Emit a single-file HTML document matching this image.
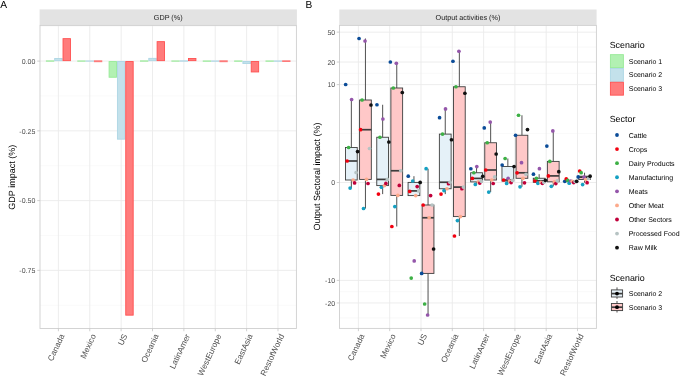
<!DOCTYPE html>
<html><head><meta charset="utf-8"><style>
html,body{margin:0;padding:0;background:#fff;}
svg{display:block;font-family:"Liberation Sans", sans-serif;will-change:transform;text-rendering:geometricPrecision;}
</style></head><body>
<svg width="685" height="376" viewBox="0 0 685 376">
<rect width="685" height="376" fill="#fff"/>
<rect x="39.6" y="9.4" width="257.30" height="16.00" fill="#E3E3E3"/>
<text x="168.2" y="20.3" font-size="7.25" text-anchor="middle" fill="#1A1A1A">GDP (%)</text>
<line x1="40.0" x2="296.4" y1="26.23" y2="26.23" stroke="#F5F5F5" stroke-width="0.6"/>
<line x1="40.0" x2="296.4" y1="95.97" y2="95.97" stroke="#F5F5F5" stroke-width="0.6"/>
<line x1="40.0" x2="296.4" y1="165.72" y2="165.72" stroke="#F5F5F5" stroke-width="0.6"/>
<line x1="40.0" x2="296.4" y1="235.47" y2="235.47" stroke="#F5F5F5" stroke-width="0.6"/>
<line x1="40.0" x2="296.4" y1="305.23" y2="305.23" stroke="#F5F5F5" stroke-width="0.6"/>
<line x1="40.0" x2="296.4" y1="61.10" y2="61.10" stroke="#EBEBEB" stroke-width="0.9"/>
<line x1="40.0" x2="296.4" y1="130.85" y2="130.85" stroke="#EBEBEB" stroke-width="0.9"/>
<line x1="40.0" x2="296.4" y1="200.60" y2="200.60" stroke="#EBEBEB" stroke-width="0.9"/>
<line x1="40.0" x2="296.4" y1="270.35" y2="270.35" stroke="#EBEBEB" stroke-width="0.9"/>
<line x1="58.40" x2="58.40" y1="25.4" y2="328.5" stroke="#EBEBEB" stroke-width="0.9"/>
<line x1="89.77" x2="89.77" y1="25.4" y2="328.5" stroke="#EBEBEB" stroke-width="0.9"/>
<line x1="121.14" x2="121.14" y1="25.4" y2="328.5" stroke="#EBEBEB" stroke-width="0.9"/>
<line x1="152.51" x2="152.51" y1="25.4" y2="328.5" stroke="#EBEBEB" stroke-width="0.9"/>
<line x1="183.88" x2="183.88" y1="25.4" y2="328.5" stroke="#EBEBEB" stroke-width="0.9"/>
<line x1="215.25" x2="215.25" y1="25.4" y2="328.5" stroke="#EBEBEB" stroke-width="0.9"/>
<line x1="246.62" x2="246.62" y1="25.4" y2="328.5" stroke="#EBEBEB" stroke-width="0.9"/>
<line x1="277.99" x2="277.99" y1="25.4" y2="328.5" stroke="#EBEBEB" stroke-width="0.9"/>
<rect x="45.91" y="60.20" width="8.33" height="1.70" fill="#98EA98" opacity="0.75"/>
<rect x="54.69" y="58.45" width="7.43" height="2.20" fill="#C3E1EB" stroke="#ADD6E4" stroke-width="0.9"/>
<rect x="63.02" y="38.65" width="7.43" height="22.00" fill="#FF7C7C" stroke="#FF5050" stroke-width="0.9"/>
<rect x="77.27" y="60.30" width="8.33" height="1.60" fill="#98EA98" opacity="0.75"/>
<rect x="85.60" y="60.30" width="8.33" height="1.60" fill="#ADD6E4" opacity="0.75"/>
<rect x="93.93" y="60.30" width="8.33" height="1.90" fill="#FF5050" opacity="0.75"/>
<rect x="109.09" y="61.55" width="7.43" height="15.70" fill="#B2F1B2" stroke="#98EA98" stroke-width="0.9"/>
<rect x="117.42" y="61.55" width="7.43" height="77.60" fill="#C3E1EB" stroke="#ADD6E4" stroke-width="0.9"/>
<rect x="125.75" y="61.55" width="7.43" height="253.60" fill="#FF7C7C" stroke="#FF5050" stroke-width="0.9"/>
<rect x="140.01" y="60.20" width="8.33" height="1.70" fill="#98EA98" opacity="0.75"/>
<rect x="148.79" y="58.35" width="7.43" height="2.30" fill="#C3E1EB" stroke="#ADD6E4" stroke-width="0.9"/>
<rect x="157.12" y="41.65" width="7.43" height="19.00" fill="#FF7C7C" stroke="#FF5050" stroke-width="0.9"/>
<rect x="171.38" y="60.30" width="8.33" height="1.60" fill="#98EA98" opacity="0.75"/>
<rect x="179.72" y="60.10" width="8.33" height="1.80" fill="#ADD6E4" opacity="0.75"/>
<rect x="188.49" y="58.45" width="7.43" height="2.20" fill="#FF7C7C" stroke="#FF5050" stroke-width="0.9"/>
<rect x="202.75" y="60.30" width="8.33" height="1.70" fill="#98EA98" opacity="0.75"/>
<rect x="211.09" y="60.30" width="8.33" height="1.70" fill="#ADD6E4" opacity="0.75"/>
<rect x="219.41" y="60.30" width="8.33" height="1.90" fill="#FF5050" opacity="0.75"/>
<rect x="234.12" y="60.30" width="8.33" height="1.70" fill="#98EA98" opacity="0.75"/>
<rect x="242.91" y="61.55" width="7.43" height="2.00" fill="#C3E1EB" stroke="#ADD6E4" stroke-width="0.9"/>
<rect x="251.23" y="61.55" width="7.43" height="10.40" fill="#FF7C7C" stroke="#FF5050" stroke-width="0.9"/>
<rect x="265.50" y="60.30" width="8.33" height="1.70" fill="#98EA98" opacity="0.75"/>
<rect x="273.82" y="60.30" width="8.33" height="1.70" fill="#ADD6E4" opacity="0.75"/>
<rect x="282.16" y="60.30" width="8.33" height="1.70" fill="#FF5050" opacity="0.75"/>
<rect x="40.0" y="25.4" width="256.4" height="303.1" fill="none" stroke="#CFCFCF" stroke-width="0.9"/>
<line x1="37.25" x2="40.0" y1="61.10" y2="61.10" stroke="#C4C4C4" stroke-width="0.8"/>
<text x="35.3" y="63.90" font-size="7" text-anchor="end" fill="#4D4D4D">0.00</text>
<line x1="37.25" x2="40.0" y1="130.85" y2="130.85" stroke="#C4C4C4" stroke-width="0.8"/>
<text x="35.3" y="133.65" font-size="7" text-anchor="end" fill="#4D4D4D">-0.25</text>
<line x1="37.25" x2="40.0" y1="200.60" y2="200.60" stroke="#C4C4C4" stroke-width="0.8"/>
<text x="35.3" y="203.40" font-size="7" text-anchor="end" fill="#4D4D4D">-0.50</text>
<line x1="37.25" x2="40.0" y1="270.35" y2="270.35" stroke="#C4C4C4" stroke-width="0.8"/>
<text x="35.3" y="273.15" font-size="7" text-anchor="end" fill="#4D4D4D">-0.75</text>
<line x1="58.40" x2="58.40" y1="328.5" y2="331.25" stroke="#C4C4C4" stroke-width="0.8"/>
<text transform="translate(59.20,333.10) rotate(-65)" font-size="8.2" text-anchor="end" dy="6.1" fill="#4D4D4D">Canada</text>
<line x1="89.77" x2="89.77" y1="328.5" y2="331.25" stroke="#C4C4C4" stroke-width="0.8"/>
<text transform="translate(90.57,333.10) rotate(-65)" font-size="8.2" text-anchor="end" dy="6.1" fill="#4D4D4D">Mexico</text>
<line x1="121.14" x2="121.14" y1="328.5" y2="331.25" stroke="#C4C4C4" stroke-width="0.8"/>
<text transform="translate(121.94,333.10) rotate(-65)" font-size="8.2" text-anchor="end" dy="6.1" fill="#4D4D4D">US</text>
<line x1="152.51" x2="152.51" y1="328.5" y2="331.25" stroke="#C4C4C4" stroke-width="0.8"/>
<text transform="translate(153.31,333.10) rotate(-65)" font-size="8.2" text-anchor="end" dy="6.1" fill="#4D4D4D">Oceania</text>
<line x1="183.88" x2="183.88" y1="328.5" y2="331.25" stroke="#C4C4C4" stroke-width="0.8"/>
<text transform="translate(184.68,333.10) rotate(-65)" font-size="8.2" text-anchor="end" dy="6.1" fill="#4D4D4D">LatinAmer</text>
<line x1="215.25" x2="215.25" y1="328.5" y2="331.25" stroke="#C4C4C4" stroke-width="0.8"/>
<text transform="translate(216.05,333.10) rotate(-65)" font-size="8.2" text-anchor="end" dy="6.1" fill="#4D4D4D">WestEurope</text>
<line x1="246.62" x2="246.62" y1="328.5" y2="331.25" stroke="#C4C4C4" stroke-width="0.8"/>
<text transform="translate(247.42,333.10) rotate(-65)" font-size="8.2" text-anchor="end" dy="6.1" fill="#4D4D4D">EastAsia</text>
<line x1="277.99" x2="277.99" y1="328.5" y2="331.25" stroke="#C4C4C4" stroke-width="0.8"/>
<text transform="translate(278.79,333.10) rotate(-65)" font-size="8.2" text-anchor="end" dy="6.1" fill="#4D4D4D">RestofWorld</text>
<text transform="translate(14.65,177.25) rotate(-90)" font-size="9" text-anchor="middle" fill="#000">GDP impact (%)</text>
<text x="0.2" y="8.3" font-size="10.2" fill="#000">A</text>
<rect x="339.3" y="9.5" width="257.30" height="15.90" fill="#E3E3E3"/>
<text x="467.95" y="20.3" font-size="7.25" text-anchor="middle" fill="#1A1A1A">Output activities (%)</text>
<line x1="339.5" x2="596.4" y1="317.91" y2="317.91" stroke="#F5F5F5" stroke-width="0.6"/>
<line x1="339.5" x2="596.4" y1="291.68" y2="291.68" stroke="#F5F5F5" stroke-width="0.6"/>
<line x1="339.5" x2="596.4" y1="231.45" y2="231.45" stroke="#F5F5F5" stroke-width="0.6"/>
<line x1="339.5" x2="596.4" y1="133.55" y2="133.55" stroke="#F5F5F5" stroke-width="0.6"/>
<line x1="339.5" x2="596.4" y1="73.32" y2="73.32" stroke="#F5F5F5" stroke-width="0.6"/>
<line x1="339.5" x2="596.4" y1="47.09" y2="47.09" stroke="#F5F5F5" stroke-width="0.6"/>
<line x1="339.5" x2="596.4" y1="302.96" y2="302.96" stroke="#EBEBEB" stroke-width="0.9"/>
<line x1="339.5" x2="596.4" y1="280.39" y2="280.39" stroke="#EBEBEB" stroke-width="0.9"/>
<line x1="339.5" x2="596.4" y1="182.50" y2="182.50" stroke="#EBEBEB" stroke-width="0.9"/>
<line x1="339.5" x2="596.4" y1="84.61" y2="84.61" stroke="#EBEBEB" stroke-width="0.9"/>
<line x1="339.5" x2="596.4" y1="62.04" y2="62.04" stroke="#EBEBEB" stroke-width="0.9"/>
<line x1="339.5" x2="596.4" y1="32.14" y2="32.14" stroke="#EBEBEB" stroke-width="0.9"/>
<line x1="358.40" x2="358.40" y1="25.4" y2="328.4" stroke="#EBEBEB" stroke-width="0.9"/>
<line x1="389.70" x2="389.70" y1="25.4" y2="328.4" stroke="#EBEBEB" stroke-width="0.9"/>
<line x1="421.00" x2="421.00" y1="25.4" y2="328.4" stroke="#EBEBEB" stroke-width="0.9"/>
<line x1="452.30" x2="452.30" y1="25.4" y2="328.4" stroke="#EBEBEB" stroke-width="0.9"/>
<line x1="483.60" x2="483.60" y1="25.4" y2="328.4" stroke="#EBEBEB" stroke-width="0.9"/>
<line x1="514.90" x2="514.90" y1="25.4" y2="328.4" stroke="#EBEBEB" stroke-width="0.9"/>
<line x1="546.20" x2="546.20" y1="25.4" y2="328.4" stroke="#EBEBEB" stroke-width="0.9"/>
<line x1="577.50" x2="577.50" y1="25.4" y2="328.4" stroke="#EBEBEB" stroke-width="0.9"/>
<line x1="351.35" x2="351.35" y1="99.50" y2="147.50" stroke="#3D3D3D" stroke-width="0.9"/>
<line x1="351.35" x2="351.35" y1="180.00" y2="188.10" stroke="#3D3D3D" stroke-width="0.9"/>
<rect x="345.47" y="147.50" width="11.75" height="32.50" fill="#E5F1F8" stroke="#3D3D3D" stroke-width="0.9"/>
<line x1="345.47" x2="357.22" y1="161.00" y2="161.00" stroke="#3D3D3D" stroke-width="1.7"/>
<line x1="365.45" x2="365.45" y1="38.50" y2="100.00" stroke="#3D3D3D" stroke-width="0.9"/>
<line x1="365.45" x2="365.45" y1="179.40" y2="208.50" stroke="#3D3D3D" stroke-width="0.9"/>
<rect x="359.57" y="100.00" width="11.75" height="79.40" fill="#FFC8C8" stroke="#3D3D3D" stroke-width="0.9"/>
<line x1="359.57" x2="371.32" y1="129.70" y2="129.70" stroke="#3D3D3D" stroke-width="1.7"/>
<line x1="382.65" x2="382.65" y1="104.75" y2="137.25" stroke="#3D3D3D" stroke-width="0.9"/>
<line x1="382.65" x2="382.65" y1="185.60" y2="194.10" stroke="#3D3D3D" stroke-width="0.9"/>
<rect x="376.77" y="137.25" width="11.75" height="48.35" fill="#E5F1F8" stroke="#3D3D3D" stroke-width="0.9"/>
<line x1="376.77" x2="388.52" y1="179.40" y2="179.40" stroke="#3D3D3D" stroke-width="1.7"/>
<line x1="396.75" x2="396.75" y1="62.00" y2="88.00" stroke="#3D3D3D" stroke-width="0.9"/>
<line x1="396.75" x2="396.75" y1="195.40" y2="226.50" stroke="#3D3D3D" stroke-width="0.9"/>
<rect x="390.88" y="88.00" width="11.75" height="107.40" fill="#FFC8C8" stroke="#3D3D3D" stroke-width="0.9"/>
<line x1="390.88" x2="402.62" y1="170.75" y2="170.75" stroke="#3D3D3D" stroke-width="1.7"/>
<line x1="413.95" x2="413.95" y1="176.20" y2="182.40" stroke="#3D3D3D" stroke-width="0.9"/>
<line x1="413.95" x2="413.95" y1="195.60" y2="195.60" stroke="#3D3D3D" stroke-width="0.9"/>
<rect x="408.07" y="182.40" width="11.75" height="13.20" fill="#E5F1F8" stroke="#3D3D3D" stroke-width="0.9"/>
<line x1="408.07" x2="419.82" y1="190.90" y2="190.90" stroke="#3D3D3D" stroke-width="1.7"/>
<line x1="428.05" x2="428.05" y1="168.70" y2="205.00" stroke="#3D3D3D" stroke-width="0.9"/>
<line x1="428.05" x2="428.05" y1="273.40" y2="315.00" stroke="#3D3D3D" stroke-width="0.9"/>
<rect x="422.18" y="205.00" width="11.75" height="68.40" fill="#FFC8C8" stroke="#3D3D3D" stroke-width="0.9"/>
<line x1="422.18" x2="433.93" y1="217.75" y2="217.75" stroke="#3D3D3D" stroke-width="1.7"/>
<line x1="445.25" x2="445.25" y1="108.90" y2="134.10" stroke="#3D3D3D" stroke-width="0.9"/>
<line x1="445.25" x2="445.25" y1="188.75" y2="194.10" stroke="#3D3D3D" stroke-width="0.9"/>
<rect x="439.37" y="134.10" width="11.75" height="54.65" fill="#E5F1F8" stroke="#3D3D3D" stroke-width="0.9"/>
<line x1="439.37" x2="451.12" y1="182.25" y2="182.25" stroke="#3D3D3D" stroke-width="1.7"/>
<line x1="459.35" x2="459.35" y1="51.25" y2="86.75" stroke="#3D3D3D" stroke-width="0.9"/>
<line x1="459.35" x2="459.35" y1="216.60" y2="236.00" stroke="#3D3D3D" stroke-width="0.9"/>
<rect x="453.47" y="86.75" width="11.75" height="129.85" fill="#FFC8C8" stroke="#3D3D3D" stroke-width="0.9"/>
<line x1="453.47" x2="465.22" y1="187.10" y2="187.10" stroke="#3D3D3D" stroke-width="1.7"/>
<line x1="476.55" x2="476.55" y1="166.60" y2="172.75" stroke="#3D3D3D" stroke-width="0.9"/>
<line x1="476.55" x2="476.55" y1="181.90" y2="184.40" stroke="#3D3D3D" stroke-width="0.9"/>
<rect x="470.67" y="172.75" width="11.75" height="9.15" fill="#E5F1F8" stroke="#3D3D3D" stroke-width="0.9"/>
<line x1="470.67" x2="482.42" y1="178.40" y2="178.40" stroke="#3D3D3D" stroke-width="1.7"/>
<line x1="490.65" x2="490.65" y1="122.10" y2="142.75" stroke="#3D3D3D" stroke-width="0.9"/>
<line x1="490.65" x2="490.65" y1="180.00" y2="192.10" stroke="#3D3D3D" stroke-width="0.9"/>
<rect x="484.77" y="142.75" width="11.75" height="37.25" fill="#FFC8C8" stroke="#3D3D3D" stroke-width="0.9"/>
<line x1="484.77" x2="496.52" y1="170.00" y2="170.00" stroke="#3D3D3D" stroke-width="1.7"/>
<line x1="507.85" x2="507.85" y1="158.50" y2="166.50" stroke="#3D3D3D" stroke-width="0.9"/>
<line x1="507.85" x2="507.85" y1="181.10" y2="183.40" stroke="#3D3D3D" stroke-width="0.9"/>
<rect x="501.97" y="166.50" width="11.75" height="14.60" fill="#E5F1F8" stroke="#3D3D3D" stroke-width="0.9"/>
<line x1="501.97" x2="513.72" y1="180.00" y2="180.00" stroke="#3D3D3D" stroke-width="1.7"/>
<line x1="521.95" x2="521.95" y1="115.25" y2="135.25" stroke="#3D3D3D" stroke-width="0.9"/>
<line x1="521.95" x2="521.95" y1="178.30" y2="186.80" stroke="#3D3D3D" stroke-width="0.9"/>
<rect x="516.07" y="135.25" width="11.75" height="43.05" fill="#FFC8C8" stroke="#3D3D3D" stroke-width="0.9"/>
<line x1="516.07" x2="527.82" y1="172.80" y2="172.80" stroke="#3D3D3D" stroke-width="1.7"/>
<line x1="539.15" x2="539.15" y1="174.20" y2="178.25" stroke="#3D3D3D" stroke-width="0.9"/>
<line x1="539.15" x2="539.15" y1="182.30" y2="183.30" stroke="#3D3D3D" stroke-width="0.9"/>
<rect x="533.28" y="178.25" width="11.75" height="4.05" fill="#E5F1F8" stroke="#3D3D3D" stroke-width="0.9"/>
<line x1="533.28" x2="545.03" y1="180.80" y2="180.80" stroke="#3D3D3D" stroke-width="1.7"/>
<line x1="553.25" x2="553.25" y1="130.90" y2="161.40" stroke="#3D3D3D" stroke-width="0.9"/>
<line x1="553.25" x2="553.25" y1="181.80" y2="186.30" stroke="#3D3D3D" stroke-width="0.9"/>
<rect x="547.38" y="161.40" width="11.75" height="20.40" fill="#FFC8C8" stroke="#3D3D3D" stroke-width="0.9"/>
<line x1="547.38" x2="559.12" y1="175.90" y2="175.90" stroke="#3D3D3D" stroke-width="1.7"/>
<line x1="570.45" x2="570.45" y1="180.40" y2="181.00" stroke="#3D3D3D" stroke-width="0.9"/>
<line x1="570.45" x2="570.45" y1="181.50" y2="181.50" stroke="#3D3D3D" stroke-width="0.9"/>
<rect x="564.58" y="181.00" width="11.75" height="0.50" fill="#E5F1F8" stroke="#3D3D3D" stroke-width="0.9"/>
<line x1="564.58" x2="576.33" y1="181.30" y2="181.30" stroke="#3D3D3D" stroke-width="1.7"/>
<line x1="584.55" x2="584.55" y1="172.70" y2="176.20" stroke="#3D3D3D" stroke-width="0.9"/>
<line x1="584.55" x2="584.55" y1="179.50" y2="182.70" stroke="#3D3D3D" stroke-width="0.9"/>
<rect x="578.67" y="176.20" width="11.75" height="3.30" fill="#FFC8C8" stroke="#3D3D3D" stroke-width="0.9"/>
<line x1="578.67" x2="590.42" y1="177.20" y2="177.20" stroke="#3D3D3D" stroke-width="1.7"/>
<circle cx="345.65" cy="84.50" r="1.85" fill="#0B4C98"/>
<circle cx="347.14" cy="161.00" r="1.85" fill="#F2000F"/>
<circle cx="348.63" cy="147.50" r="1.85" fill="#3DB045"/>
<circle cx="350.12" cy="188.10" r="1.85" fill="#14A0C2"/>
<circle cx="351.61" cy="99.50" r="1.85" fill="#9456AA"/>
<circle cx="353.10" cy="180.00" r="1.85" fill="#FCAA8B"/>
<circle cx="354.59" cy="182.90" r="1.85" fill="#C0003A"/>
<circle cx="356.08" cy="172.50" r="1.85" fill="#B6C3C3"/>
<circle cx="357.57" cy="151.60" r="1.85" fill="#111111"/>
<circle cx="359.06" cy="38.50" r="1.85" fill="#0B4C98"/>
<circle cx="360.55" cy="129.70" r="1.85" fill="#F2000F"/>
<circle cx="362.04" cy="100.00" r="1.85" fill="#3DB045"/>
<circle cx="363.53" cy="208.50" r="1.85" fill="#14A0C2"/>
<circle cx="365.02" cy="41.00" r="1.85" fill="#9456AA"/>
<circle cx="366.51" cy="179.40" r="1.85" fill="#FCAA8B"/>
<circle cx="368.00" cy="183.50" r="1.85" fill="#C0003A"/>
<circle cx="369.49" cy="148.50" r="1.85" fill="#B6C3C3"/>
<circle cx="370.98" cy="105.00" r="1.85" fill="#111111"/>
<circle cx="376.95" cy="104.75" r="1.85" fill="#0B4C98"/>
<circle cx="378.44" cy="194.10" r="1.85" fill="#F2000F"/>
<circle cx="379.93" cy="137.25" r="1.85" fill="#3DB045"/>
<circle cx="381.42" cy="187.25" r="1.85" fill="#14A0C2"/>
<circle cx="382.91" cy="119.00" r="1.85" fill="#9456AA"/>
<circle cx="384.40" cy="185.60" r="1.85" fill="#FCAA8B"/>
<circle cx="385.89" cy="183.40" r="1.85" fill="#C0003A"/>
<circle cx="387.38" cy="179.40" r="1.85" fill="#B6C3C3"/>
<circle cx="388.87" cy="142.00" r="1.85" fill="#111111"/>
<circle cx="390.36" cy="62.00" r="1.85" fill="#0B4C98"/>
<circle cx="391.85" cy="226.50" r="1.85" fill="#F2000F"/>
<circle cx="393.34" cy="88.00" r="1.85" fill="#3DB045"/>
<circle cx="394.83" cy="206.60" r="1.85" fill="#14A0C2"/>
<circle cx="396.32" cy="63.25" r="1.85" fill="#9456AA"/>
<circle cx="397.81" cy="195.40" r="1.85" fill="#FCAA8B"/>
<circle cx="399.30" cy="185.40" r="1.85" fill="#C0003A"/>
<circle cx="400.79" cy="170.75" r="1.85" fill="#B6C3C3"/>
<circle cx="402.28" cy="92.50" r="1.85" fill="#111111"/>
<circle cx="408.25" cy="176.20" r="1.85" fill="#0B4C98"/>
<circle cx="409.74" cy="191.40" r="1.85" fill="#F2000F"/>
<circle cx="411.23" cy="278.10" r="1.85" fill="#3DB045"/>
<circle cx="412.72" cy="181.00" r="1.85" fill="#14A0C2"/>
<circle cx="414.21" cy="260.90" r="1.85" fill="#9456AA"/>
<circle cx="415.70" cy="195.60" r="1.85" fill="#FCAA8B"/>
<circle cx="417.19" cy="186.60" r="1.85" fill="#C0003A"/>
<circle cx="418.68" cy="190.90" r="1.85" fill="#B6C3C3"/>
<circle cx="420.17" cy="182.40" r="1.85" fill="#111111"/>
<circle cx="421.66" cy="273.40" r="1.85" fill="#0B4C98"/>
<circle cx="423.15" cy="205.00" r="1.85" fill="#F2000F"/>
<circle cx="424.64" cy="304.00" r="1.85" fill="#3DB045"/>
<circle cx="426.13" cy="168.70" r="1.85" fill="#14A0C2"/>
<circle cx="427.62" cy="315.00" r="1.85" fill="#9456AA"/>
<circle cx="429.11" cy="217.75" r="1.85" fill="#FCAA8B"/>
<circle cx="430.60" cy="195.60" r="1.85" fill="#C0003A"/>
<circle cx="432.09" cy="205.00" r="1.85" fill="#B6C3C3"/>
<circle cx="433.58" cy="249.00" r="1.85" fill="#111111"/>
<circle cx="439.55" cy="117.70" r="1.85" fill="#0B4C98"/>
<circle cx="441.04" cy="194.10" r="1.85" fill="#F2000F"/>
<circle cx="442.53" cy="134.10" r="1.85" fill="#3DB045"/>
<circle cx="444.02" cy="190.60" r="1.85" fill="#14A0C2"/>
<circle cx="445.51" cy="108.90" r="1.85" fill="#9456AA"/>
<circle cx="447.00" cy="188.75" r="1.85" fill="#FCAA8B"/>
<circle cx="448.49" cy="183.75" r="1.85" fill="#C0003A"/>
<circle cx="449.98" cy="182.25" r="1.85" fill="#B6C3C3"/>
<circle cx="451.47" cy="139.75" r="1.85" fill="#111111"/>
<circle cx="452.96" cy="61.25" r="1.85" fill="#0B4C98"/>
<circle cx="454.45" cy="236.00" r="1.85" fill="#F2000F"/>
<circle cx="455.94" cy="86.75" r="1.85" fill="#3DB045"/>
<circle cx="457.43" cy="220.60" r="1.85" fill="#14A0C2"/>
<circle cx="458.92" cy="51.25" r="1.85" fill="#9456AA"/>
<circle cx="460.41" cy="216.60" r="1.85" fill="#FCAA8B"/>
<circle cx="461.90" cy="188.75" r="1.85" fill="#C0003A"/>
<circle cx="463.39" cy="187.10" r="1.85" fill="#B6C3C3"/>
<circle cx="464.88" cy="93.25" r="1.85" fill="#111111"/>
<circle cx="470.85" cy="168.75" r="1.85" fill="#0B4C98"/>
<circle cx="472.34" cy="178.40" r="1.85" fill="#F2000F"/>
<circle cx="473.83" cy="172.75" r="1.85" fill="#3DB045"/>
<circle cx="475.32" cy="184.40" r="1.85" fill="#14A0C2"/>
<circle cx="476.81" cy="166.60" r="1.85" fill="#9456AA"/>
<circle cx="478.30" cy="181.90" r="1.85" fill="#FCAA8B"/>
<circle cx="479.79" cy="183.10" r="1.85" fill="#C0003A"/>
<circle cx="481.28" cy="181.25" r="1.85" fill="#B6C3C3"/>
<circle cx="482.77" cy="176.25" r="1.85" fill="#111111"/>
<circle cx="484.26" cy="127.90" r="1.85" fill="#0B4C98"/>
<circle cx="485.75" cy="170.00" r="1.85" fill="#F2000F"/>
<circle cx="487.24" cy="142.75" r="1.85" fill="#3DB045"/>
<circle cx="488.73" cy="192.10" r="1.85" fill="#14A0C2"/>
<circle cx="490.22" cy="122.10" r="1.85" fill="#9456AA"/>
<circle cx="491.71" cy="180.00" r="1.85" fill="#FCAA8B"/>
<circle cx="493.20" cy="183.50" r="1.85" fill="#C0003A"/>
<circle cx="494.69" cy="176.90" r="1.85" fill="#B6C3C3"/>
<circle cx="496.18" cy="154.00" r="1.85" fill="#111111"/>
<circle cx="502.15" cy="165.00" r="1.85" fill="#0B4C98"/>
<circle cx="503.64" cy="180.00" r="1.85" fill="#F2000F"/>
<circle cx="505.13" cy="158.50" r="1.85" fill="#3DB045"/>
<circle cx="506.62" cy="183.40" r="1.85" fill="#14A0C2"/>
<circle cx="508.11" cy="178.30" r="1.85" fill="#9456AA"/>
<circle cx="509.60" cy="181.10" r="1.85" fill="#FCAA8B"/>
<circle cx="511.09" cy="182.55" r="1.85" fill="#C0003A"/>
<circle cx="512.58" cy="180.40" r="1.85" fill="#B6C3C3"/>
<circle cx="514.07" cy="166.50" r="1.85" fill="#111111"/>
<circle cx="515.56" cy="135.25" r="1.85" fill="#0B4C98"/>
<circle cx="517.05" cy="172.80" r="1.85" fill="#F2000F"/>
<circle cx="518.54" cy="115.25" r="1.85" fill="#3DB045"/>
<circle cx="520.03" cy="186.80" r="1.85" fill="#14A0C2"/>
<circle cx="521.52" cy="162.70" r="1.85" fill="#9456AA"/>
<circle cx="523.01" cy="178.30" r="1.85" fill="#FCAA8B"/>
<circle cx="524.50" cy="182.80" r="1.85" fill="#C0003A"/>
<circle cx="525.99" cy="174.30" r="1.85" fill="#B6C3C3"/>
<circle cx="527.48" cy="129.60" r="1.85" fill="#111111"/>
<circle cx="533.45" cy="174.20" r="1.85" fill="#0B4C98"/>
<circle cx="534.94" cy="180.80" r="1.85" fill="#F2000F"/>
<circle cx="536.43" cy="178.25" r="1.85" fill="#3DB045"/>
<circle cx="537.92" cy="183.30" r="1.85" fill="#14A0C2"/>
<circle cx="539.41" cy="168.65" r="1.85" fill="#9456AA"/>
<circle cx="540.90" cy="182.30" r="1.85" fill="#FCAA8B"/>
<circle cx="542.39" cy="183.30" r="1.85" fill="#C0003A"/>
<circle cx="543.88" cy="182.30" r="1.85" fill="#B6C3C3"/>
<circle cx="545.37" cy="180.30" r="1.85" fill="#111111"/>
<circle cx="546.86" cy="146.10" r="1.85" fill="#0B4C98"/>
<circle cx="548.35" cy="175.90" r="1.85" fill="#F2000F"/>
<circle cx="549.84" cy="161.40" r="1.85" fill="#3DB045"/>
<circle cx="551.33" cy="186.30" r="1.85" fill="#14A0C2"/>
<circle cx="552.82" cy="130.90" r="1.85" fill="#9456AA"/>
<circle cx="554.31" cy="181.80" r="1.85" fill="#FCAA8B"/>
<circle cx="555.80" cy="183.60" r="1.85" fill="#C0003A"/>
<circle cx="557.29" cy="180.80" r="1.85" fill="#B6C3C3"/>
<circle cx="558.78" cy="171.70" r="1.85" fill="#111111"/>
<circle cx="564.75" cy="181.30" r="1.85" fill="#0B4C98"/>
<circle cx="566.24" cy="178.80" r="1.85" fill="#F2000F"/>
<circle cx="567.73" cy="180.40" r="1.85" fill="#3DB045"/>
<circle cx="569.22" cy="183.20" r="1.85" fill="#14A0C2"/>
<circle cx="570.71" cy="181.00" r="1.85" fill="#9456AA"/>
<circle cx="572.20" cy="181.30" r="1.85" fill="#FCAA8B"/>
<circle cx="573.69" cy="182.60" r="1.85" fill="#C0003A"/>
<circle cx="575.18" cy="181.50" r="1.85" fill="#B6C3C3"/>
<circle cx="576.67" cy="181.30" r="1.85" fill="#111111"/>
<circle cx="578.16" cy="176.90" r="1.85" fill="#0B4C98"/>
<circle cx="579.65" cy="171.00" r="1.85" fill="#F2000F"/>
<circle cx="581.14" cy="172.70" r="1.85" fill="#3DB045"/>
<circle cx="582.63" cy="184.60" r="1.85" fill="#14A0C2"/>
<circle cx="584.12" cy="177.20" r="1.85" fill="#9456AA"/>
<circle cx="585.61" cy="179.50" r="1.85" fill="#FCAA8B"/>
<circle cx="587.10" cy="182.70" r="1.85" fill="#C0003A"/>
<circle cx="588.59" cy="178.50" r="1.85" fill="#B6C3C3"/>
<circle cx="590.08" cy="176.20" r="1.85" fill="#111111"/>
<rect x="339.5" y="25.4" width="256.9" height="303.0" fill="none" stroke="#CFCFCF" stroke-width="0.9"/>
<line x1="336.75" x2="339.5" y1="302.96" y2="302.96" stroke="#C4C4C4" stroke-width="0.8"/>
<text x="335.2" y="305.76" font-size="7" text-anchor="end" fill="#4D4D4D">-20</text>
<line x1="336.75" x2="339.5" y1="280.39" y2="280.39" stroke="#C4C4C4" stroke-width="0.8"/>
<text x="335.2" y="283.19" font-size="7" text-anchor="end" fill="#4D4D4D">-10</text>
<line x1="336.75" x2="339.5" y1="182.50" y2="182.50" stroke="#C4C4C4" stroke-width="0.8"/>
<text x="335.2" y="185.30" font-size="7" text-anchor="end" fill="#4D4D4D">0</text>
<line x1="336.75" x2="339.5" y1="84.61" y2="84.61" stroke="#C4C4C4" stroke-width="0.8"/>
<text x="335.2" y="87.41" font-size="7" text-anchor="end" fill="#4D4D4D">10</text>
<line x1="336.75" x2="339.5" y1="62.04" y2="62.04" stroke="#C4C4C4" stroke-width="0.8"/>
<text x="335.2" y="64.84" font-size="7" text-anchor="end" fill="#4D4D4D">20</text>
<line x1="336.75" x2="339.5" y1="32.14" y2="32.14" stroke="#C4C4C4" stroke-width="0.8"/>
<text x="335.2" y="34.94" font-size="7" text-anchor="end" fill="#4D4D4D">50</text>
<line x1="358.40" x2="358.40" y1="328.4" y2="331.15" stroke="#C4C4C4" stroke-width="0.8"/>
<text transform="translate(359.20,333.00) rotate(-65)" font-size="8.2" text-anchor="end" dy="6.1" fill="#4D4D4D">Canada</text>
<line x1="389.70" x2="389.70" y1="328.4" y2="331.15" stroke="#C4C4C4" stroke-width="0.8"/>
<text transform="translate(390.50,333.00) rotate(-65)" font-size="8.2" text-anchor="end" dy="6.1" fill="#4D4D4D">Mexico</text>
<line x1="421.00" x2="421.00" y1="328.4" y2="331.15" stroke="#C4C4C4" stroke-width="0.8"/>
<text transform="translate(421.80,333.00) rotate(-65)" font-size="8.2" text-anchor="end" dy="6.1" fill="#4D4D4D">US</text>
<line x1="452.30" x2="452.30" y1="328.4" y2="331.15" stroke="#C4C4C4" stroke-width="0.8"/>
<text transform="translate(453.10,333.00) rotate(-65)" font-size="8.2" text-anchor="end" dy="6.1" fill="#4D4D4D">Oceania</text>
<line x1="483.60" x2="483.60" y1="328.4" y2="331.15" stroke="#C4C4C4" stroke-width="0.8"/>
<text transform="translate(484.40,333.00) rotate(-65)" font-size="8.2" text-anchor="end" dy="6.1" fill="#4D4D4D">LatinAmer</text>
<line x1="514.90" x2="514.90" y1="328.4" y2="331.15" stroke="#C4C4C4" stroke-width="0.8"/>
<text transform="translate(515.70,333.00) rotate(-65)" font-size="8.2" text-anchor="end" dy="6.1" fill="#4D4D4D">WestEurope</text>
<line x1="546.20" x2="546.20" y1="328.4" y2="331.15" stroke="#C4C4C4" stroke-width="0.8"/>
<text transform="translate(547.00,333.00) rotate(-65)" font-size="8.2" text-anchor="end" dy="6.1" fill="#4D4D4D">EastAsia</text>
<line x1="577.50" x2="577.50" y1="328.4" y2="331.15" stroke="#C4C4C4" stroke-width="0.8"/>
<text transform="translate(578.30,333.00) rotate(-65)" font-size="8.2" text-anchor="end" dy="6.1" fill="#4D4D4D">RestofWorld</text>
<text transform="translate(319.7,176.45) rotate(-90)" font-size="9" text-anchor="middle" fill="#000">Output Sectoral impact (%)</text>
<text x="305.6" y="8.3" font-size="10.2" fill="#000">B</text>
<text x="609.7" y="48.0" font-size="8.9" fill="#000">Scenario</text>
<rect x="610.4" y="54.65" width="13.0" height="12.9" fill="#B2F1B2" stroke="#98EA98" stroke-width="0.9"/>
<text x="628.8" y="63.60" font-size="7" fill="#000">Scenario 1</text>
<rect x="610.4" y="68.45" width="13.0" height="12.9" fill="#C3E1EB" stroke="#ADD6E4" stroke-width="0.9"/>
<text x="628.8" y="77.40" font-size="7" fill="#000">Scenario 2</text>
<rect x="610.4" y="82.25" width="13.0" height="12.9" fill="#FF7C7C" stroke="#FF5050" stroke-width="0.9"/>
<text x="628.8" y="91.20" font-size="7" fill="#000">Scenario 3</text>
<text x="609.7" y="122.4" font-size="8.9" fill="#000">Sector</text>
<circle cx="617" cy="135.00" r="1.9" fill="#0B4C98"/>
<text x="628.7" y="137.50" font-size="7" fill="#000">Cattle</text>
<circle cx="617" cy="149.08" r="1.9" fill="#F2000F"/>
<text x="628.7" y="151.58" font-size="7" fill="#000">Crops</text>
<circle cx="617" cy="163.16" r="1.9" fill="#3DB045"/>
<text x="628.7" y="165.66" font-size="7" fill="#000">Dairy Products</text>
<circle cx="617" cy="177.24" r="1.9" fill="#14A0C2"/>
<text x="628.7" y="179.74" font-size="7" fill="#000">Manufacturing</text>
<circle cx="617" cy="191.32" r="1.9" fill="#9456AA"/>
<text x="628.7" y="193.82" font-size="7" fill="#000">Meats</text>
<circle cx="617" cy="205.40" r="1.9" fill="#FCAA8B"/>
<text x="628.7" y="207.90" font-size="7" fill="#000">Other Meat</text>
<circle cx="617" cy="219.48" r="1.9" fill="#C0003A"/>
<text x="628.7" y="221.98" font-size="7" fill="#000">Other Sectors</text>
<circle cx="617" cy="233.56" r="1.9" fill="#B6C3C3"/>
<text x="628.7" y="236.06" font-size="7" fill="#000">Processed Food</text>
<circle cx="617" cy="247.64" r="1.9" fill="#111111"/>
<text x="628.7" y="250.14" font-size="7" fill="#000">Raw Milk</text>
<text x="609.7" y="281.0" font-size="8.9" fill="#000">Scenario</text>
<line x1="617" x2="617" y1="287.40" y2="298.90" stroke="#3D3D3D" stroke-width="0.9"/>
<rect x="611.4" y="289.90" width="11.2" height="7.1" fill="#E5F1F8" stroke="#3D3D3D" stroke-width="0.9"/>
<line x1="611.4" x2="622.6" y1="293.60" y2="293.60" stroke="#3D3D3D" stroke-width="1.7"/>
<circle cx="617" cy="293.60" r="1.9" fill="#000"/>
<text x="628.8" y="296.10" font-size="7" fill="#000">Scenario 2</text>
<line x1="617" x2="617" y1="301.00" y2="312.50" stroke="#3D3D3D" stroke-width="0.9"/>
<rect x="611.4" y="303.50" width="11.2" height="7.1" fill="#FFC8C8" stroke="#3D3D3D" stroke-width="0.9"/>
<line x1="611.4" x2="622.6" y1="307.20" y2="307.20" stroke="#3D3D3D" stroke-width="1.7"/>
<circle cx="617" cy="307.20" r="1.9" fill="#000"/>
<text x="628.8" y="309.70" font-size="7" fill="#000">Scenario 3</text>
</svg>
</body></html>
